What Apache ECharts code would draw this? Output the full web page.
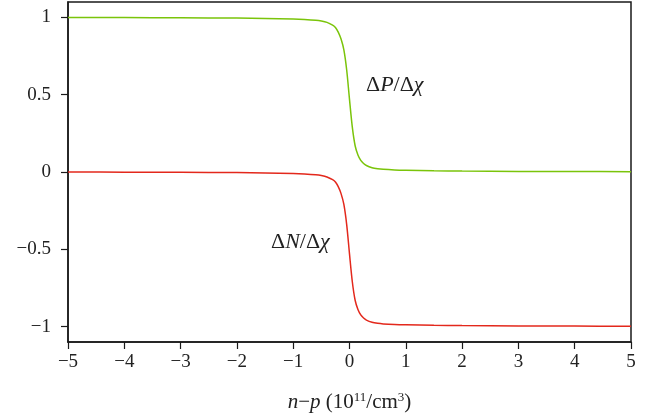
<!DOCTYPE html>
<html lang="en">
<head>
    <meta charset="UTF-8">
    <title>ΔP/Δχ and ΔN/Δχ</title>
    <script src="https://cdn.jsdelivr.net/npm/echarts@6/dist/echarts.min.js"></script>
    <style>
        *{ margin: 0; }
        html,body{ height: 100%; background: #fff; }
        #chart{ width: 655px; height: 417px; }
    </style>
</head>
<body>
<div id="chart"></div>
<script>
    // n-p values (10^11/cm^3)
    const xs = [-5, -4, -3, -2, -1.5, -1, -0.8, -0.6, -0.5, -0.4, -0.3, -0.25, -0.2, -0.15, -0.1, -0.05,
        0, 0.05, 0.1, 0.15, 0.2, 0.25, 0.3, 0.4, 0.5, 0.6, 0.8, 1, 1.5, 2, 3, 4, 5];
    // ΔP/Δχ
    const dP = [1.0, 0.999, 0.998, 0.996, 0.994, 0.99, 0.987, 0.982, 0.977, 0.968, 0.95, 0.935, 0.905, 0.86, 0.79, 0.66,
        0.47, 0.29, 0.17, 0.11, 0.075, 0.055, 0.042, 0.028, 0.021, 0.017, 0.013, 0.011, 0.008, 0.006, 0.004, 0.003, 0.002];
    // ΔN/Δχ
    const dN = [0.0, -0.001, -0.002, -0.004, -0.006, -0.01, -0.013, -0.018, -0.023, -0.032, -0.05, -0.065, -0.095, -0.14, -0.21, -0.34,
        -0.53, -0.71, -0.83, -0.89, -0.925, -0.945, -0.958, -0.972, -0.979, -0.983, -0.987, -0.989, -0.992, -0.994, -0.996, -0.997, -0.998];
    const yTicks = [-1, -0.5, 0, 0.5, 1];

    const serif = 'Liberation Serif';
    const minus = v => String(v).replace('-', '\u2212');
    const curveLabel = {
        a: { fontFamily: serif, fontSize: 22, fill: '#222' },
        i: { fontFamily: serif, fontSize: 22, fontStyle: 'italic', fill: '#222' }
    };

    let chart = echarts.init(document.getElementById('chart'));
    chart.setOption({
        animation: false,
        grid: {
            left: 68, right: 24, top: 2, bottom: 75,
            outerBoundsMode: 'none',
            show: true, borderColor: '#1a1a1a', borderWidth: 1.5
        },
        xAxis: {
            type: 'value', min: -5, max: 5, interval: 1,
            axisLine: { onZero: false, lineStyle: { color: '#1a1a1a', width: 1.5 } },
            axisTick: { show: true, inside: false, length: 7, lineStyle: { color: '#1a1a1a', width: 1.2 } },
            splitLine: { show: false },
            axisLabel: { color: '#222', fontFamily: serif, fontSize: 19, margin: 11, formatter: minus },
            name: '{i|n}{a|\u2212}{i|p}{a| (10}{s|11}{a|/cm}{s|3}{a|)}',
            nameLocation: 'middle', nameGap: 49,
            nameTextStyle: {
                rich: {
                    a: { fontFamily: serif, fontSize: 21, color: '#222' },
                    i: { fontFamily: serif, fontSize: 21, fontStyle: 'italic', color: '#222' },
                    s: { fontFamily: serif, fontSize: 13, color: '#222', padding: [0, 0, 9, 0] }
                }
            }
        },
        yAxis: {
            type: 'value', min: -1.1, max: 1.1,
            axisLine: { show: true, onZero: false, lineStyle: { color: '#1a1a1a', width: 1.5 } },
            axisTick: { show: true, inside: false, length: 7, customValues: yTicks, lineStyle: { color: '#1a1a1a', width: 1.2 } },
            splitLine: { show: false },
            axisLabel: { color: '#222', fontFamily: serif, fontSize: 19, margin: 17, customValues: yTicks, formatter: minus }
        },
        series: [
            {
                name: 'ΔP/Δχ', type: 'line', showSymbol: false, smooth: 0.3,
                lineStyle: { color: '#7ac40a', width: 1.5 },
                data: xs.map((x, i) => [x, dP[i]])
            },
            {
                name: 'ΔN/Δχ', type: 'line', showSymbol: false, smooth: 0.3,
                lineStyle: { color: '#e3281c', width: 1.5 },
                data: xs.map((x, i) => [x, dN[i]])
            }
        ],
        graphic: [
            {
                type: 'text', left: 366, top: 74,
                style: { text: '{a|Δ}{i|P}{a|/Δ}{i|χ}', rich: curveLabel }
            },
            {
                type: 'text', left: 271, top: 231,
                style: { text: '{a|Δ}{i|N}{a|/Δ}{i|χ}', rich: curveLabel }
            }
        ]
    });
</script>
</body>
</html>
